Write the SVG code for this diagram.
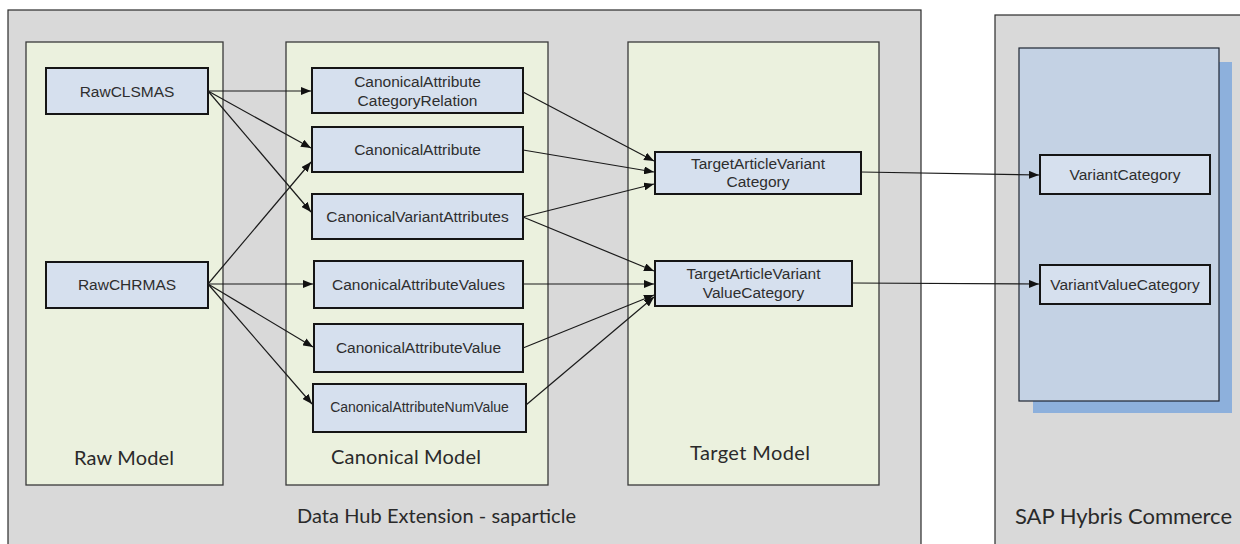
<svg xmlns="http://www.w3.org/2000/svg" width="1240" height="544" viewBox="0 0 1240 544">
  <style>
    .outer { fill: #d9d9d9; stroke: #2b2b2b; stroke-width: 1.2; }
    .panel { fill: #ebf1de; stroke: #3a3a3a; stroke-width: 1.3; }
    .hybris { fill: #c4d2e4; stroke: #1e2633; stroke-width: 1.2; }
    .shadow { fill: #8db0dc; }
    .node rect { fill: #d6e0ee; stroke: #151515; stroke-width: 2; }
    .node text { font-family: "Liberation Sans", Arial, sans-serif; font-size: 15.5px; fill: #2e2e2e; text-anchor: middle; }
    .node text.small { font-size: 14px; }
    .label { font-family: Lato, "Open Sans", sans-serif; font-size: 20px; fill: #2a2a2a; text-anchor: middle; }
    .edge { fill: none; stroke: #1a1a1a; stroke-width: 1.2; marker-end: url(#arrow); }
  </style>
  <defs>
    <marker id="arrow" viewBox="0 0 10 8" refX="10" refY="4" markerWidth="10" markerHeight="8" markerUnits="userSpaceOnUse" orient="auto">
      <path d="M0,0 L10,4 L0,8 z" fill="#111"/>
    </marker>
  </defs>

  <rect width="1240" height="544" fill="#ffffff"/>

  <!-- containers -->
  <g id="datahub">
    <rect class="outer" x="8" y="10" width="913" height="545"/>
    <text class="label" x="436.5" y="523" textLength="279">Data Hub Extension - saparticle</text>
  </g>
  <g id="raw-model">
    <rect class="panel" x="26" y="42" width="197" height="443"/>
    <text class="label" x="124" y="465" textLength="100">Raw Model</text>
  </g>
  <g id="canonical-model">
    <rect class="panel" x="286" y="42" width="262" height="443"/>
    <text class="label" x="406" y="464" textLength="150">Canonical Model</text>
  </g>
  <g id="target-model">
    <rect class="panel" x="628" y="42" width="251" height="443"/>
    <text class="label" x="750" y="460" textLength="120">Target Model</text>
  </g>
  <g id="hybris-commerce">
    <rect class="outer" x="995" y="15" width="250" height="540"/>
    <rect class="shadow" x="1033" y="62" width="199" height="351"/>
    <rect class="hybris" x="1019" y="48" width="200" height="353"/>
    <text class="label" x="1123.5" y="524" style="font-size:22px" textLength="217">SAP Hybris Commerce</text>
  </g>

  <!-- raw nodes -->
  <g id="RawCLSMAS" class="node">
    <rect x="46" y="68" width="162" height="46"/>
    <text x="127" y="96.5">RawCLSMAS</text>
  </g>
  <g id="RawCHRMAS" class="node">
    <rect x="46" y="262" width="162" height="46"/>
    <text x="127" y="289.5">RawCHRMAS</text>
  </g>

  <!-- canonical nodes -->
  <g id="CanonicalAttributeCategoryRelation" class="node">
    <rect x="312" y="68" width="211" height="45"/>
    <text x="417.5" y="87">CanonicalAttribute</text>
    <text x="417.5" y="105.5">CategoryRelation</text>
  </g>
  <g id="CanonicalAttribute" class="node">
    <rect x="312" y="127" width="211" height="45"/>
    <text x="417.5" y="155">CanonicalAttribute</text>
  </g>
  <g id="CanonicalVariantAttributes" class="node">
    <rect x="312" y="194" width="211" height="45"/>
    <text x="417.5" y="222">CanonicalVariantAttributes</text>
  </g>
  <g id="CanonicalAttributeValues" class="node">
    <rect x="314" y="261" width="209" height="47"/>
    <text x="418.5" y="289.5">CanonicalAttributeValues</text>
  </g>
  <g id="CanonicalAttributeValue" class="node">
    <rect x="314" y="324" width="209" height="48"/>
    <text x="418.5" y="353">CanonicalAttributeValue</text>
  </g>
  <g id="CanonicalAttributeNumValue" class="node">
    <rect x="313" y="384" width="213" height="48"/>
    <text class="small" x="419.5" y="412">CanonicalAttributeNumValue</text>
  </g>

  <!-- target nodes -->
  <g id="TargetArticleVariantCategory" class="node">
    <rect x="655" y="152" width="206" height="42"/>
    <text x="758" y="168.5">TargetArticleVariant</text>
    <text x="758" y="187">Category</text>
  </g>
  <g id="TargetArticleVariantValueCategory" class="node">
    <rect x="655" y="261" width="197" height="45"/>
    <text x="753.5" y="279">TargetArticleVariant</text>
    <text x="753.5" y="297.5">ValueCategory</text>
  </g>

  <!-- hybris nodes -->
  <g id="VariantCategory" class="node">
    <rect x="1040" y="155" width="170" height="39"/>
    <text x="1125" y="180">VariantCategory</text>
  </g>
  <g id="VariantValueCategory" class="node">
    <rect x="1040" y="265" width="170" height="39"/>
    <text x="1125" y="290">VariantValueCategory</text>
  </g>

  <!-- connectors -->
  <g id="connectors">
    <line class="edge" x1="208" y1="91" x2="311" y2="91"/>
    <line class="edge" x1="208" y1="91" x2="311" y2="148"/>
    <line class="edge" x1="208" y1="91" x2="311" y2="212"/>
    <line class="edge" x1="208" y1="284" x2="311" y2="162"/>
    <line class="edge" x1="208" y1="284" x2="313" y2="284"/>
    <line class="edge" x1="208" y1="284" x2="313" y2="347"/>
    <line class="edge" x1="208" y1="284" x2="312" y2="404"/>

    <line class="edge" x1="523" y1="92" x2="654" y2="161"/>
    <line class="edge" x1="523" y1="150" x2="654" y2="172"/>
    <line class="edge" x1="523" y1="217" x2="654" y2="184"/>
    <line class="edge" x1="523" y1="217" x2="654" y2="271"/>
    <line class="edge" x1="523" y1="284" x2="654" y2="284"/>
    <line class="edge" x1="523" y1="348" x2="654" y2="295"/>
    <line class="edge" x1="526" y1="405" x2="654" y2="297"/>

    <line class="edge" x1="861" y1="172" x2="1039" y2="175"/>
    <line class="edge" x1="852" y1="283" x2="1039" y2="284"/>
  </g>
</svg>
